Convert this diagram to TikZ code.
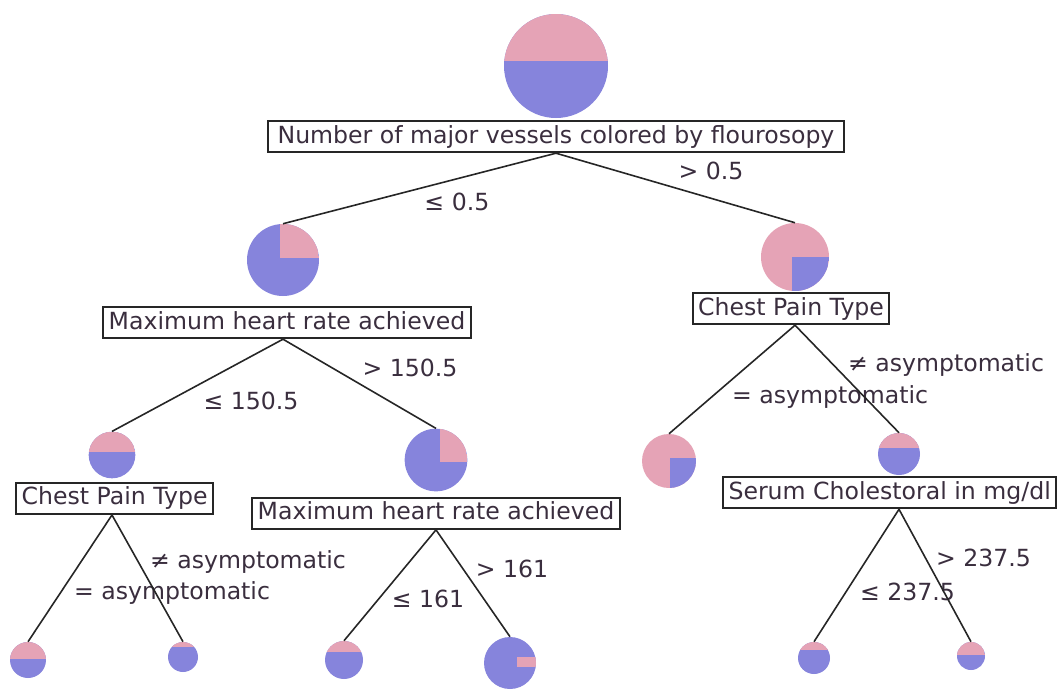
\documentclass[tikz,border=0pt]{standalone}
\usepackage{fontspec}
\setmainfont{DejaVu Sans}
\usetikzlibrary{positioning}

\definecolor{piepink}{RGB}{229,163,182}
\definecolor{pieblue}{RGB}{134,132,220}
\definecolor{labelink}{RGB}{58,46,62}

\tikzstyle{splitbox} = [rectangle, draw=black!85, line width=1.4pt, fill=white, text=labelink, text height=13pt, text depth=3.5pt, inner xsep=4pt, inner ysep=3.4pt]
\tikzstyle{branch} = [draw=black!85, line width=1.2pt]
\tikzstyle{condlabel} = [text=labelink, inner sep=1pt]

\tikzset{
  pie/.style={circle, inner sep=0pt, minimum size=#1, fill=pieblue},
  pinktop/.style={path picture={\fill[piepink] (path picture bounding box.north west) rectangle ([yshift=#1]path picture bounding box.east);}},
  pinkcorner/.style 2 args={path picture={\fill[piepink] ([xshift=#1]path picture bounding box.north) rectangle ([yshift=#2]path picture bounding box.east);}},
  bluecorner/.style 2 args={fill=piepink, path picture={\fill[pieblue] ([xshift=#1,yshift=#2]path picture bounding box.center) rectangle (path picture bounding box.south east);}}
}

\begin{document}
\begin{tikzpicture}[x=0.75pt, y=-0.75pt, font=\fontsize{17.7}{21}\selectfont]
\useasboundingbox (0,0) rectangle (1057,690);

\node (vessels_pie) [pie=78pt, pinktop=4pt] at (556,66) {};
\node (vessels_test) [splitbox, inner xsep=7pt, below=1.5pt of vessels_pie] {Number of major vessels colored by flourosopy};

\node (hrL_pie) [pie=54pt, pinkcorner={-2pt}{1.5pt}] at (283,260) {};
\node (hrL_test) [splitbox, below=7.5pt of hrL_pie, xshift=3pt] {Maximum heart rate achieved};

\node (cpR_pie) [pie=51pt, bluecorner={-2pt}{0pt}] at (795,257) {};
\node (cpR_test) [splitbox, below=0.75pt of cpR_pie, xshift=-3pt] {Chest Pain Type};

\node (cpL_pie) [pie=35pt, pinktop=2.5pt] at (112,455) {};
\node (cpL_test) [splitbox, below=2.6pt of cpL_pie, xshift=2pt] {Chest Pain Type};

\node (hrM_pie) [pie=47pt, pinkcorner={3pt}{-1.5pt}] at (436,460) {};
\node (hrM_test) [splitbox, below=4pt of hrM_pie] {Maximum heart rate achieved};

\node (asym_leaf) [pie=40.5pt, bluecorner={0.75pt}{2pt}] at (669,461) {};

\node (chol_pie) [pie=31.5pt, pinktop=4.5pt] at (899,454) {};
\node (chol_test) [splitbox, below=0.8pt of chol_pie, xshift=-7pt] {Serum Cholestoral in mg/dl};

\node (cpL_eq) [pie=27pt, pinktop=1pt] at (28,660) {};
\node (cpL_ne) [pie=22.5pt, pinktop=7.5pt] at (183,657) {};
\node (hrM_le) [pie=28.5pt, pinktop=6pt] at (344,660) {};
\node (hrM_gt) [pie=39pt, path picture={\fill[piepink] ([xshift=5pt,yshift=4.5pt]path picture bounding box.center) rectangle ([yshift=-3pt]path picture bounding box.east);}] at (510,663) {};
\node (chol_le) [pie=24pt, pinktop=6pt] at (814,658) {};
\node (chol_gt) [pie=21pt, pinktop=0.75pt] at (971,656) {};

\draw [branch] (vessels_test.south -| vessels_pie.center) -- node[condlabel, pos=0.363, yshift=-17.4pt] (v_le_lbl) {≤ 0.5} (hrL_pie.north);
\draw [branch] (vessels_test.south -| vessels_pie.center) -- node[condlabel, pos=0.649, yshift=20.5pt] (v_gt_lbl) {> 0.5} (cpR_pie.north);

\draw [branch] (hrL_test.south -| hrL_pie.center) -- node[condlabel, pos=0.187, yshift=-33.3pt] (hrL_le_lbl) {≤ 150.5} (cpL_pie.north);
\draw [branch] (hrL_test.south -| hrL_pie.center) -- node[condlabel, pos=0.83, yshift=34.1pt] (hrL_gt_lbl) {> 150.5} (hrM_pie.north);

\draw [branch] (cpL_test.south -| cpL_pie.center) -- node[condlabel, pos=0.612, xshift=83.6pt] (cpL_eq_lbl) {= asymptomatic} (cpL_eq.north);
\draw [branch] (cpL_test.south -| cpL_pie.center) -- node[condlabel, pos=0.372, xshift=82.2pt] (cpL_ne_lbl) {≠ asymptomatic} (cpL_ne.north);

\draw [branch] (hrM_test.south -| hrM_pie.center) -- node[condlabel, pos=0.625, xshift=37.1pt] (hrM_le_lbl) {≤ 161} (hrM_le.north);
\draw [branch] (hrM_test.south -| hrM_pie.center) -- node[condlabel, pos=0.361, xshift=37pt] (hrM_gt_lbl) {> 161} (hrM_gt.north);

\draw [branch] (cpR_test.south -| cpR_pie.center) -- node[condlabel, pos=0.658, xshift=88.5pt] (cpR_eq_lbl) {= asymptomatic} (asym_leaf.north);
\draw [branch] (cpR_test.south -| cpR_pie.center) -- node[condlabel, pos=0.369, xshift=84.5pt] (cpR_ne_lbl) {≠ asymptomatic} (chol_pie.north);

\draw [branch] (chol_test.south -| chol_pie.center) -- node[condlabel, pos=0.621, xshift=45.9pt] (chol_le_lbl) {≤ 237.5} (chol_le.north);
\draw [branch] (chol_test.south -| chol_pie.center) -- node[condlabel, pos=0.364, xshift=43.8pt] (chol_gt_lbl) {> 237.5} (chol_gt.north);
\end{tikzpicture}
\end{document}
